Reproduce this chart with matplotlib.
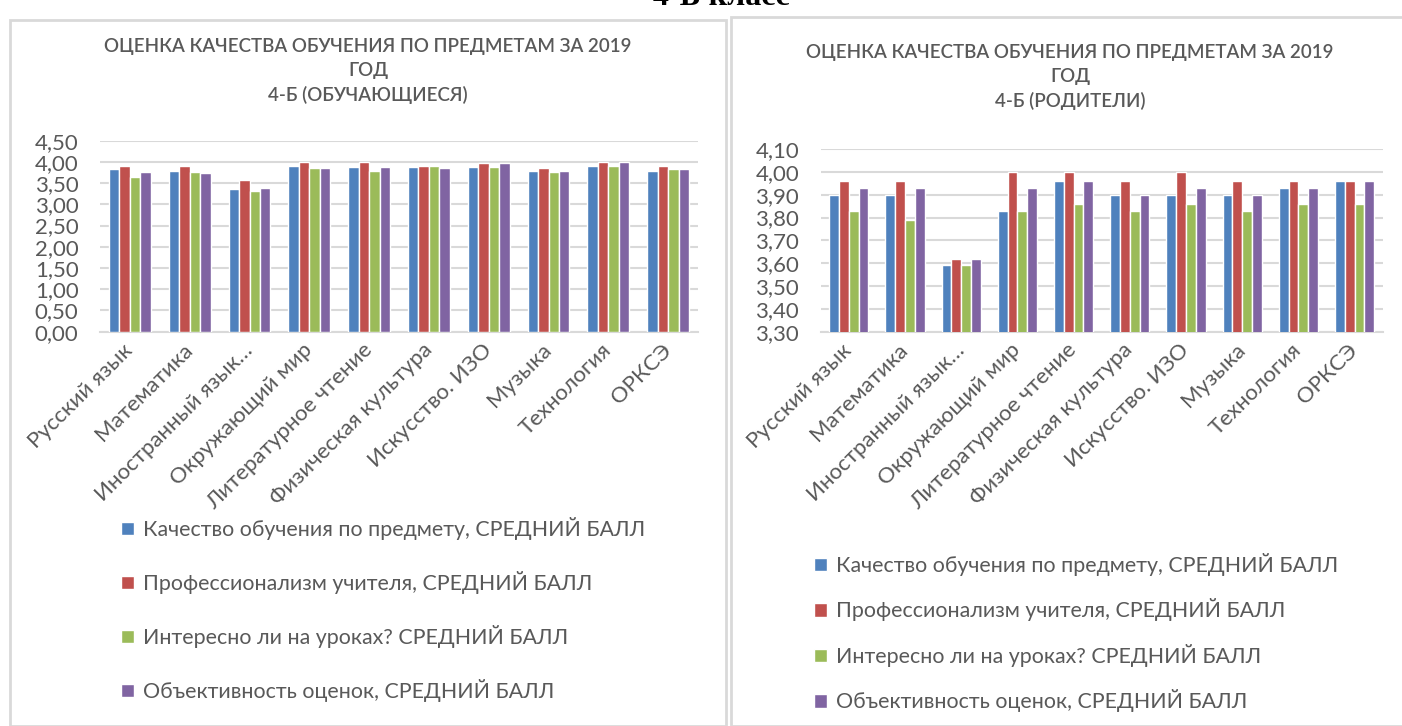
import matplotlib
matplotlib.use("Agg")
import matplotlib.pyplot as plt
import numpy as np
from matplotlib.patches import Patch, Rectangle
from matplotlib.ticker import FuncFormatter, FixedLocator

plt.rcParams['font.family'] = ['Lato', 'DejaVu Sans']

subjects = ["Русский язык", "Математика", "Иностранный язык…", "Окружающий мир",
            "Литературное чтение", "Физическая культура", "Искусство. ИЗО",
            "Музыка", "Технология", "ОРКСЭ"]
series_names = ["Качество обучения по предмету, СРЕДНИЙ БАЛЛ",
                "Профессионализм учителя, СРЕДНИЙ БАЛЛ",
                "Интересно ли на уроках? СРЕДНИЙ БАЛЛ",
                "Объективность оценок, СРЕДНИЙ БАЛЛ"]
colors = ["#4F81BD", "#C0504D", "#9BBB59", "#8064A2"]

# Students (обучающиеся)
stud_quality   = [3.83, 3.79, 3.36, 3.91, 3.88, 3.88, 3.88, 3.79, 3.91, 3.79]
stud_teacher   = [3.91, 3.91, 3.57, 4.00, 4.00, 3.91, 3.97, 3.85, 4.00, 3.91]
stud_interest  = [3.64, 3.76, 3.31, 3.85, 3.79, 3.91, 3.88, 3.76, 3.91, 3.83]
stud_objective = [3.76, 3.73, 3.39, 3.85, 3.88, 3.85, 3.97, 3.79, 4.00, 3.83]

# Parents (родители)
par_quality   = [3.90, 3.90, 3.59, 3.83, 3.96, 3.90, 3.90, 3.90, 3.93, 3.96]
par_teacher   = [3.96, 3.96, 3.62, 4.00, 4.00, 3.96, 4.00, 3.96, 3.96, 3.96]
par_interest  = [3.83, 3.79, 3.59, 3.83, 3.86, 3.83, 3.86, 3.83, 3.86, 3.86]
par_objective = [3.93, 3.93, 3.62, 3.93, 3.96, 3.90, 3.93, 3.90, 3.93, 3.96]

left_title = "ОЦЕНКА КАЧЕСТВА ОБУЧЕНИЯ ПО ПРЕДМЕТАМ ЗА 2019\nГОД\n4-Б (ОБУЧАЮЩИЕСЯ)"
right_title = "ОЦЕНКА КАЧЕСТВА ОБУЧЕНИЯ ПО ПРЕДМЕТАМ ЗА 2019\nГОД\n4-Б (РОДИТЕЛИ)"
left_ticks = [0.0, 0.5, 1.0, 1.5, 2.0, 2.5, 3.0, 3.5, 4.0, 4.5]
right_ticks = [3.3, 3.4, 3.5, 3.6, 3.7, 3.8, 3.9, 4.0, 4.1]
top_heading = "4-Б класс"

W, H = 1402, 726
fig = plt.figure(figsize=(W / 100, H / 100), dpi=100)
fig.patch.set_facecolor("white")

def px(x0, y0, x1, y1):
    return [x0 / W, 1 - y1 / H, (x1 - x0) / W, (y1 - y0) / H]

# panel borders
fig.patches.append(Rectangle((10 / W, 0), 716 / W, 1 - 20 / H, transform=fig.transFigure,
                             fill=False, edgecolor="#D9D9D9", linewidth=2.0, zorder=0))
fig.patches.append(Rectangle((731 / W, 0), 700 / W, 1 - 17 / H, transform=fig.transFigure,
                             fill=False, edgecolor="#D9D9D9", linewidth=2.0, zorder=0))

fig.text(721 / W, 1 - 5 / H, top_heading, ha="center", va="baseline",
         family=["Liberation Serif", "DejaVu Serif"], weight="bold", fontsize=23, color="black")

txt = "#595959"
fmt = FuncFormatter(lambda v, p: f"{v:.2f}".replace(".", ","))

def draw(ax, data, ticks, ylim):
    x = np.arange(len(subjects))
    w = 0.175
    for i, (vals, c) in enumerate(zip(data, colors)):
        ax.bar(x + (i - 1.5) * w, vals, width=w, color=c, edgecolor="white",
               linewidth=1.0, label=series_names[i], zorder=3)
    ax.set_xlim(-0.5, len(subjects) - 0.5)
    ax.set_ylim(*ylim)
    ax.yaxis.set_major_locator(FixedLocator(ticks))
    ax.yaxis.set_major_formatter(fmt)
    ax.grid(axis="y", color="#D9D9D9", linewidth=1.5, zorder=0)
    ax.set_axisbelow(True)
    for s in ["top", "right", "left"]:
        ax.spines[s].set_visible(False)
    ax.spines["bottom"].set_color("#D9D9D9")
    ax.spines["bottom"].set_linewidth(1.5)
    ax.tick_params(axis="y", length=0, pad=15.5, labelsize=16, labelcolor=txt)
    ax.tick_params(axis="x", length=0, pad=11, labelsize=16, labelcolor=txt)
    ax.set_xticks(x)
    ax.set_xticklabels(subjects, rotation=45, ha="right", va="center",
                       rotation_mode="anchor")

axL = fig.add_axes(px(100, 140.7, 698, 331.7))
draw(axL, [stud_quality, stud_teacher, stud_interest, stud_objective], left_ticks, (0, 4.5))
axR = fig.add_axes(px(820.7, 149, 1382.7, 331.7))
draw(axR, [par_quality, par_teacher, par_interest, par_objective], right_ticks, (3.3, 4.1))

fig.text(368 / W, 1 - 71 / H, left_title, ha="center", va="center", fontsize=13.5,
         weight=600, color=txt, linespacing=1.45)
fig.text(1070 / W, 1 - 77 / H, right_title, ha="center", va="center", fontsize=13.5,
         weight=600, color=txt, linespacing=1.45)

def legend(ax, x, y, spacing):
    handles, labels = ax.get_legend_handles_labels()
    ax.legend(handles, labels, loc="upper left", bbox_to_anchor=(x / W, 1 - y / H),
              bbox_transform=fig.transFigure, frameon=False, fontsize=15.4,
              labelcolor=txt, handlelength=0.6, handleheight=0.6, handletextpad=0.45,
              labelspacing=spacing, borderpad=0, borderaxespad=0)

legend(axL, 121, 517, 1.45)
legend(axR, 814, 553, 1.05)

fig.savefig("out.png", dpi=100, facecolor="white")
